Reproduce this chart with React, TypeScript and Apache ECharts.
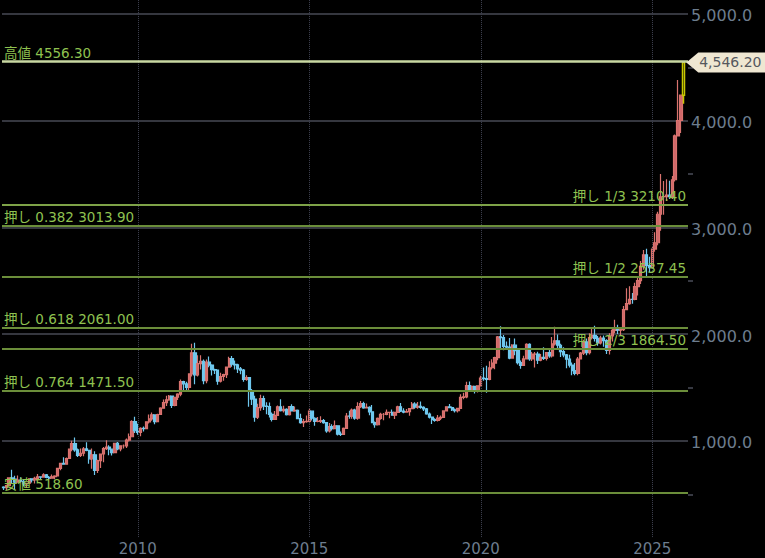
import React, { useEffect, useRef } from "react";
import * as echarts from "echarts";

// [open, close, low, high] monthly candles
const c2006 = [[569,564,540,575],[564,582,541,591],[582,654,580,656],[654,643,606,730],[643,614,543,675],[614,633,610,677],[633,623,612,660],[623,599,573,640],[599,604,560,610],[604,646,604,650],[646,636,612,650]];
const c2007 = [[636,650,603,666],[650,665,647,691],[665,662,636,670],[662,683,660,697],[683,660,650,692],[660,651,638,672],[651,665,648,686],[665,672,642,680],[672,743,670,745],[743,790,725,795],[790,783,780,848],[783,836,780,845]];
const c2008 = [[836,923,832,928],[923,975,905,1002],[975,916,900,1033],[916,865,850,930],[865,885,850,930],[885,926,857,943],[926,912,903,988],[912,833,786,915],[833,871,740,930],[871,724,681,905],[724,816,700,825],[816,878,746,880]];
const c2009 = [[878,928,802,943],[928,943,916,1006],[943,923,867,960],[923,891,865,925],[891,979,885,983],[979,927,913,990],[927,955,905,960],[955,955,929,967],[955,1008,935,1023],[1008,1040,995,1070],[1040,1182,1040,1195],[1182,1096,1075,1227]];
const c2010 = [[1096,1081,1058,1161],[1081,1118,1045,1128],[1118,1115,1090,1135],[1115,1180,1115,1185],[1180,1207,1165,1249],[1207,1244,1190,1266],[1244,1181,1157,1245],[1181,1248,1181,1255],[1248,1307,1245,1315],[1307,1359,1307,1388],[1359,1386,1328,1424],[1386,1421,1378,1431]];
const c2011 = [[1421,1333,1308,1424],[1333,1410,1325,1414],[1410,1439,1384,1447],[1439,1556,1419,1577],[1556,1536,1462,1564],[1536,1502,1478,1556],[1502,1628,1478,1632],[1628,1825,1605,1912],[1825,1620,1532,1921],[1620,1725,1604,1804],[1725,1747,1670,1804],[1747,1566,1531,1763]];
const c2012 = [[1566,1738,1540,1764],[1738,1711,1690,1791],[1711,1669,1613,1718],[1669,1664,1627,1676],[1664,1560,1527,1668],[1560,1604,1548,1640],[1604,1622,1564,1630],[1622,1692,1591,1696],[1692,1773,1685,1789],[1773,1719,1695,1796],[1719,1714,1670,1754],[1714,1675,1636,1723]];
const c2013 = [[1675,1664,1626,1694],[1664,1578,1554,1675],[1578,1595,1565,1617],[1595,1472,1321,1600],[1472,1393,1338,1488],[1393,1224,1180,1424],[1224,1313,1206,1348],[1313,1396,1284,1434],[1396,1327,1290,1423],[1327,1323,1251,1362],[1323,1250,1221,1361],[1250,1202,1182,1267]];
const c2014 = [[1202,1240,1202,1280],[1240,1321,1238,1332],[1321,1284,1277,1392],[1284,1296,1268,1331],[1296,1246,1240,1306],[1246,1322,1240,1326],[1322,1282,1281,1345],[1282,1288,1273,1323],[1288,1210,1206,1296],[1210,1172,1161,1255],[1172,1182,1131,1206],[1182,1184,1170,1238]];
const c2015 = [[1184,1279,1167,1307],[1279,1213,1192,1284],[1213,1183,1142,1223],[1183,1184,1175,1224],[1184,1191,1169,1232],[1191,1172,1162,1205],[1172,1095,1077,1175],[1095,1134,1080,1169],[1134,1115,1098,1157],[1115,1142,1114,1191],[1142,1065,1052,1143],[1065,1061,1046,1088]];
const c2016 = [[1061,1118,1061,1127],[1118,1234,1112,1263],[1234,1232,1208,1284],[1232,1290,1208,1304],[1290,1215,1200,1303],[1215,1322,1200,1362],[1322,1351,1310,1375],[1351,1309,1302,1367],[1309,1316,1305,1352],[1316,1273,1241,1326],[1273,1173,1171,1338],[1173,1152,1124,1182]];
const c2017 = [[1152,1211,1146,1220],[1211,1249,1200,1264],[1249,1249,1195,1262],[1249,1268,1242,1295],[1268,1269,1214,1270],[1269,1242,1237,1296],[1242,1269,1205,1274],[1269,1321,1269,1331],[1321,1280,1271,1357],[1280,1271,1261,1306],[1271,1275,1264,1299],[1275,1303,1236,1307]];
const c2018 = [[1303,1345,1302,1366],[1345,1318,1303,1362],[1318,1325,1303,1365],[1325,1315,1302,1369],[1315,1300,1281,1326],[1300,1253,1246,1309],[1253,1224,1211,1266],[1224,1201,1160,1225],[1201,1192,1180,1214],[1192,1215,1182,1243],[1215,1222,1196,1238],[1222,1282,1221,1285]];
const c2019 = [[1282,1321,1276,1326],[1321,1313,1311,1347],[1313,1292,1281,1324],[1292,1284,1266,1304],[1284,1305,1268,1306],[1305,1409,1301,1439],[1409,1413,1391,1453],[1413,1520,1400,1555],[1520,1472,1459,1558],[1472,1511,1460,1519],[1511,1464,1445,1515],[1464,1517,1454,1522]];
const c2020 = [[1517,1589,1517,1611],[1589,1585,1564,1689],[1585,1577,1451,1704],[1577,1686,1568,1747],[1686,1730,1670,1765],[1730,1781,1671,1789],[1781,1975,1757,1984],[1975,1968,1863,2075],[1968,1886,1849,1992],[1886,1879,1860,1933],[1879,1777,1765,1965],[1777,1898,1775,1907]];
const c2021 = [[1898,1847,1803,1960],[1847,1734,1717,1871],[1734,1708,1677,1755],[1708,1769,1706,1798],[1769,1906,1769,1916],[1906,1770,1751,1916],[1770,1814,1750,1833],[1814,1814,1688,1834],[1814,1757,1721,1835],[1757,1783,1746,1814],[1783,1774,1759,1878],[1774,1829,1753,1831]];
const c2022 = [[1829,1797,1780,1853],[1797,1909,1781,1974],[1909,1937,1895,2070],[1937,1897,1872,1998],[1897,1837,1787,1910],[1837,1807,1785,1879],[1807,1766,1681,1814],[1766,1711,1688,1807],[1711,1660,1615,1735],[1660,1633,1617,1730],[1633,1768,1616,1787],[1768,1824,1765,1833]];
const c2023 = [[1824,1928,1805,1949],[1928,1827,1804,1959],[1827,1969,1810,2010],[1969,1990,1950,2048],[1990,1962,1932,2079],[1962,1919,1893,1983],[1919,1965,1903,1987],[1965,1940,1884,1988],[1940,1849,1815,1953],[1849,1984,1810,2010],[1984,2036,1931,2052],[2036,2063,2009,2135]];
const c2024 = [[2063,2039,2002,2088],[2039,2044,1984,2064],[2044,2230,2030,2265],[2230,2286,2228,2431],[2286,2327,2277,2450],[2327,2326,2286,2387],[2326,2447,2319,2483],[2447,2503,2364,2531],[2503,2635,2471,2685],[2635,2744,2604,2790],[2744,2643,2536,2801],[2643,2624,2583,2726]];
const c2025 = [[2624,2798,2614,2817],[2798,2857,2772,2956],[2857,3124,2833,3148],[3124,3288,2970,3500],[3288,3289,3120,3435],[3289,3303,3247,3451],[3303,3290,3268,3439],[3290,3447,3268,3483],[3447,3858,3430,3870],[3858,4002,3858,4381],[4002,4239,3886,4245],[4239,4546.2,4160,4556.3]];

const allYears = [c2006,c2007,c2008,c2009,c2010,c2011,c2012,c2013,c2014,c2015,c2016,c2017,c2018,c2019,c2020,c2021,c2022,c2023,c2024,c2025];
const candles = allYears.flat();
const categories: string[] = [];
for (let y = 2006; y <= 2026; y++) for (let m = 1; m <= 12; m++) {
  if ((y === 2006 && m === 1) || (y === 2026 && m > 1)) continue;
  categories.push(`${y}-${String(m).padStart(2, "0")}`);
}

const yearTicks = ["2010-01", "2015-01", "2020-01", "2025-01"];
const leftLevels = [
  { name: "高値 4556.30", value: 4556.3, color: "#c9d8a2" },
  { name: "押し 0.382 3013.90", value: 3013.9, color: "#6b8e3a" },
  { name: "押し 0.618 2061.00", value: 2061.0, color: "#6b8e3a" },
  { name: "押し 0.764 1471.50", value: 1471.5, color: "#6b8e3a" },
  { name: "安値 518.60", value: 518.6, color: "#6b8e3a" },
];
const rightLevels = [
  { name: "押し 1/3 3210.40", value: 3210.4, color: "#7ea348" },
  { name: "押し 1/2 2537.45", value: 2537.45, color: "#6b8e3a" },
  { name: "押し 2/3 1864.50", value: 1864.5, color: "#6b8e3a" },
];
const lastClose = 4546.2;

const FONT = "'DejaVu Sans', 'Noto Sans CJK JP', sans-serif";
const LABEL_GREEN = "#8fc250";

export default function App() {
  const ref = useRef<HTMLDivElement>(null);
  useEffect(() => {
    const chart = echarts.init(ref.current!, null, { renderer: "svg" });
    const levelLine = (l: any, position: string) => ({
      name: l.name,
      yAxis: l.value,
      lineStyle: { color: l.color, width: l.value === 4556.3 ? 2.5 : 2, type: "solid", opacity: 1 },
      label: { show: true, position, formatter: "{b}", color: LABEL_GREEN, fontSize: 13.5, fontFamily: FONT, distance: 2 },
    });
    const data = candles.map((c, i) =>
      i === candles.length - 1
        ? { value: c, itemStyle: { color: "#000000", color0: "#000000", borderColor: "#c8c800", borderColor0: "#c8c800", borderWidth: 1.5 } }
        : c,
    );
    chart.setOption({
      animation: false,
      backgroundColor: "#000000",
      textStyle: { fontFamily: FONT },
      grid: { left: 2, top: 0, width: 686, height: 547.75 },
      xAxis: {
        type: "category",
        data: categories,
        offset: -6,
        axisLine: { show: false },
        axisTick: { show: false },
        splitLine: { show: false },
        axisLabel: {
          color: "#6d7d8e",
          fontSize: 15,
          margin: 0,
          interval: (_: number, v: string) => yearTicks.includes(v),
          formatter: (v: string) => v.slice(0, 4),
        },
      },
      yAxis: {
        type: "value",
        position: "right",
        min: 0,
        max: 5131,
        interval: 1000,
        axisLine: { show: false },
        axisTick: { show: false },
        minorTick: { show: true, splitNumber: 2, length: 5, lineStyle: { color: "#4a4d58", width: 1.5 } },
        splitLine: { show: true, showMinLine: false, showMaxLine: false, lineStyle: { color: "#35373f", width: 2 } },
        axisLabel: {
          color: "#6d7d8e",
          fontSize: 16,
          margin: 3,
          showMinLabel: false,
          showMaxLabel: false,
          formatter: (v: number) => `{a|${v.toLocaleString("en-US", { minimumFractionDigits: 1, maximumFractionDigits: 1 })}}`,
          rich: { a: { color: "#6d7d8e", fontSize: 16, fontFamily: FONT, padding: [4, 0, 0, 0] } },
        },
      },
      series: [
        {
          type: "candlestick",
          data,
          barWidth: 2.8,
          itemStyle: { color: "#d0686a", color0: "#6fc8ee", borderColor: "#d9736f", borderColor0: "#6fc8ee", borderWidth: 1.2 },
          markLine: {
            silent: true,
            symbol: "none",
            animation: false,
            data: [
              ...yearTicks.map((t) => [
                { xAxis: t, yAxis: 100, lineStyle: { color: "#3f4250", width: 1, type: "dotted" }, label: { show: false } },
                { xAxis: t, yAxis: 5131 },
              ]),
              ...leftLevels.map((l) => levelLine(l, "insideStartTop")),
              ...rightLevels.map((l) => levelLine(l, "insideEndTop")),
            ],
          },
          markPoint: {
            silent: true,
            animation: false,
            data: [
              {
                coord: [categories[candles.length - 1], lastClose],
                symbol: "path://M0,10 L12,0 L80,0 L80,20 L12,20 Z",
                symbolSize: [80, 20],
                symbolKeepAspect: false,
                symbolOffset: [42.6, 0],
                itemStyle: { color: "#efe7d2" },
                label: {
                  show: true,
                  position: "inside",
                  offset: [4, 0],
                  formatter: lastClose.toLocaleString("en-US", { minimumFractionDigits: 2 }),
                  color: "#55585e",
                  fontSize: 14,
                  fontFamily: FONT,
                },
              },
            ],
          },
        },
      ],
    });
    return () => chart.dispose();
  }, []);
  return <div ref={ref} style={{ position: "fixed", left: 0, top: 0, width: 765, height: 558, background: "#000" }} />;
}
